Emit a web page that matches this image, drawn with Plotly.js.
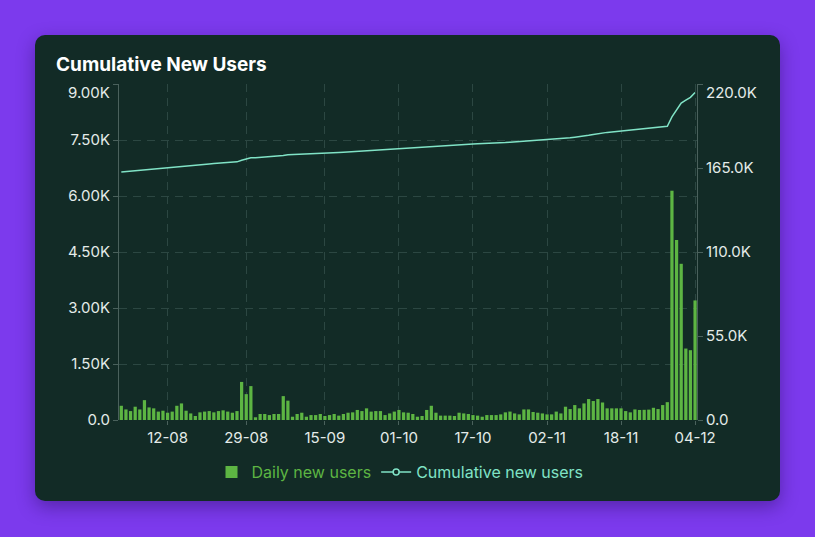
<!DOCTYPE html>
<html>
<head>
<meta charset="utf-8">
<script src="https://cdn.plot.ly/plotly-3.0.1.min.js"></script>
<style>
  html, body { margin:0; padding:0; width:815px; height:537px; overflow:hidden; background:#7c3aed; }
  #card { position:absolute; left:35px; top:35px; width:745px; height:466px; background:#122b26; border-radius:10px; box-shadow:0 6px 18px rgba(40,10,90,0.45); }
  #chart { position:absolute; left:0; top:0; width:815px; height:537px; }
</style>
</head>
<body>
<div id="card"></div>
<div id="chart"></div>
<script>
// ---- data ----
const startDate = '2024-08-02';
const dailyNewUsers = [
  // Aug 2 - Aug 31
  381,283,239,356,283,532,337,312,225,249,195,225,381,444,249,176,107,205,225,239,205,239,259,225,195,239,1020,693,908,73,
  // Sep
  161,161,132,161,161,640,518,88,161,195,88,132,132,161,107,132,161,117,161,195,205,269,239,312,225,239,239,132,176,225,
  // Oct
  269,205,195,161,88,107,269,381,195,117,117,117,107,195,176,161,132,117,88,132,132,132,151,205,225,176,151,283,283,215,195,
  // Nov
  176,151,151,225,176,356,293,400,312,444,561,508,561,469,312,312,312,312,239,205,283,269,273,278,327,293,400,478,6142,4824,
  // Dec 1 - Dec 4
  4184,1914,1870,3203
];
const cumulativeNewUsers = [
  162400,162680,162920,163280,163560,164090,164430,164740,164970,165220,165410,165640,166020,166460,166710,166890,166990,167200,167420,167660,167870,168110,168370,168590,168790,169030,170050,170740,171650,171720,
  171880,172040,172180,172340,172500,173140,173650,173740,173900,174100,174190,174320,174450,174610,174720,174850,175010,175130,175290,175490,175690,175960,176200,176510,176740,176970,177210,177350,177520,177750,
  178010,178220,178420,178580,178660,178770,179040,179420,179620,179730,179850,179970,180080,180270,180450,180610,180740,180860,180940,181080,181210,181340,181490,181700,181920,182100,182250,182530,182810,183030,183220,
  183400,183550,183700,183930,184100,184460,184750,185150,185470,185910,186470,186980,187540,188010,188320,188630,188950,189260,189500,189700,189990,190260,190530,190810,191130,191430,191830,192310,198450,203270,
  207460,209370,211240,214440
];
const xTickDates = ['2024-08-12','2024-08-29','2024-09-15','2024-10-01','2024-10-17','2024-11-02','2024-11-18','2024-12-04'];
const xTickLabels = ['12-08','29-08','15-09','01-10','17-10','02-11','18-11','04-12'];
const yLeftTicks = [0,1500,3000,4500,6000,7500,9000];
const yLeftLabels = ['0.0','1.50K','3.00K','4.50K','6.00K','7.50K','9.00K'];
const yRightTicks = [0,55000,110000,165000,220000];
const yRightLabels = ['0.0','55.0K','110.0K','165.0K','220.0K'];

// consecutive daily categories
const dates = [];
{
  const d0 = new Date(startDate + 'T00:00:00Z');
  for (let i = 0; i < dailyNewUsers.length; i++) {
    const d = new Date(d0.getTime() + i * 86400000);
    dates.push(d.toISOString().slice(0,10));
  }
}

const BAR = '#5db543';
const LINE = '#80e3c6';
const AXIS = '#4a615c';
const GRID = '#2c4742';
const TXT = '#e4ebe9';

// hide top labels (drawn slightly below the top edge as annotations)
const leftLabelsShown = yLeftLabels.map((t,i) => i === yLeftLabels.length-1 ? '' : t);
const rightLabelsShown = yRightLabels.map((t,i) => i === yRightLabels.length-1 ? '' : t);

const traces = [
  {
    type:'bar', x:dates, y:dailyNewUsers, yaxis:'y',
    name:'<span style="color:' + BAR + '">Daily new users</span>',
    marker:{color:BAR, line:{width:0}}, hoverinfo:'skip'
  },
  {
    type:'scatter', mode:'lines', x:dates, y:cumulativeNewUsers, yaxis:'y2',
    name:'Cumulative new users', showlegend:false,
    line:{color:LINE, width:1.5}, hoverinfo:'skip'
  },
  {
    type:'scatter', mode:'lines+markers', x:[null], y:[null], yaxis:'y2',
    name:'<span style="color:' + LINE + '">Cumulative new users</span>',
    line:{color:LINE, width:1.5},
    marker:{symbol:'circle', size:6, color:'#122b26', line:{color:LINE, width:1.5}},
    hoverinfo:'skip'
  }
];

const layout = {
  width:815, height:537,
  paper_bgcolor:'rgba(0,0,0,0)', plot_bgcolor:'rgba(0,0,0,0)',
  margin:{l:118.5, r:117.7, t:83.5, b:116.5, pad:0},
  font:{family:'Inter, "Open Sans", sans-serif', color:TXT, size:15},
  title:{
    text:'Cumulative New Users',
    xref:'container', x:56/815, xanchor:'left',
    yref:'container', y:1-64/537, yanchor:'middle',
    font:{family:'Inter, sans-serif', size:19, weight:700, color:'#ffffff'}
  },
  bargap:0.3,
  showlegend:true,
  legend:{
    orientation:'h', xref:'container', x:400/815, xanchor:'center',
    yref:'container', y:1-472/537, yanchor:'middle',
    bgcolor:'rgba(0,0,0,0)', font:{size:16}, itemclick:false, itemdoubleclick:false
  },
  xaxis:{
    type:'date', range:['2024-08-01 12:00','2024-12-04 10:00'],
    tickmode:'array', tickvals:xTickDates, ticktext:xTickLabels,
    showgrid:true, gridcolor:GRID, griddash:'8px,6px', gridwidth:1,
    ticks:'outside', ticklen:4, tickcolor:AXIS,
    showline:false, zeroline:false, fixedrange:true,
    tickfont:{size:15, color:TXT}
  },
  yaxis:{
    range:[0,9000], tickmode:'array', tickvals:yLeftTicks, ticktext:leftLabelsShown,
    showgrid:true, gridcolor:GRID, griddash:'8px,6px', gridwidth:1,
    showline:true, linecolor:AXIS, linewidth:1,
    ticks:'outside', ticklen:5, tickcolor:AXIS,
    zeroline:false, fixedrange:true,
    tickfont:{size:15, color:TXT}
  },
  yaxis2:{
    overlaying:'y', side:'right',
    range:[0,220000], tickmode:'array', tickvals:yRightTicks, ticktext:rightLabelsShown,
    showgrid:false, showline:true, linecolor:AXIS, linewidth:1,
    ticks:'outside', ticklen:5, tickcolor:AXIS,
    zeroline:false, fixedrange:true,
    tickfont:{size:15, color:TXT}
  },
  annotations:[
    {xref:'paper', x:0, xanchor:'right', xshift:-7, yref:'y', y:yLeftTicks[yLeftTicks.length-1], yanchor:'middle', yshift:-8,
     text:yLeftLabels[yLeftLabels.length-1], showarrow:false, font:{size:15, color:TXT}},
    {xref:'paper', x:1, xanchor:'left', xshift:7, yref:'y2', y:yRightTicks[yRightTicks.length-1], yanchor:'middle', yshift:-8,
     text:yRightLabels[yRightLabels.length-1], showarrow:false, font:{size:15, color:TXT}}
  ]
};

Plotly.newPlot('chart', traces, layout, {displayModeBar:false, staticPlot:true});
</script>
</body>
</html>
